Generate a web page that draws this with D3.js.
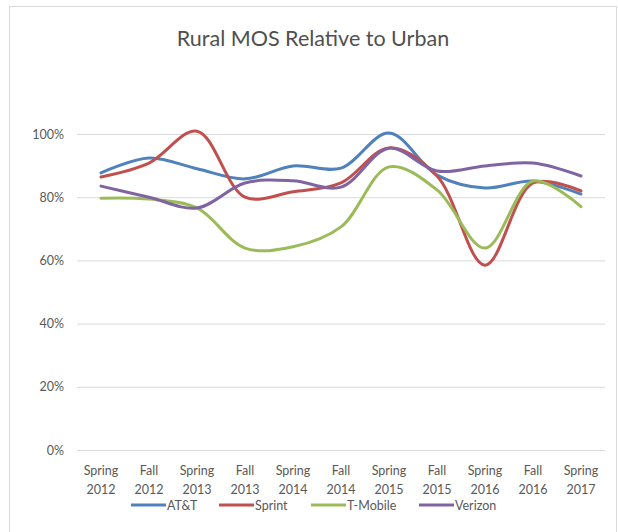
<!DOCTYPE html>
<html><head><meta charset="utf-8">
<script src="https://cdn.jsdelivr.net/npm/d3@7"></script>
<style>body{margin:0;background:#fff;} text{font-family:Lato,"Open Sans",sans-serif;}</style>
</head><body>
<svg id="c" width="618" height="532"></svg>
<script>
const categories = ["Spring 2012","Fall 2012","Spring 2013","Fall 2013","Spring 2014","Fall 2014","Spring 2015","Fall 2015","Spring 2016","Fall 2016","Spring 2017"];
const att      = [87.7, 92.4, 89.0, 85.8, 89.9, 89.2, 100.3, 87.0, 82.9, 85.1, 81.0];
const sprint   = [86.4, 90.8, 100.9, 80.0, 81.7, 84.5, 95.6, 86.7, 58.5, 84.5, 82.0];
const tmobile  = [79.7, 79.4, 76.6, 63.9, 64.3, 70.6, 89.6, 82.3, 63.9, 85.1, 77.0];
const verizon  = [83.5, 80.0, 76.6, 84.5, 85.2, 83.2, 95.5, 88.3, 89.9, 90.8, 86.7];
const yTicks = [0, 20, 40, 60, 80, 100];
const seriesNames = ["AT&T","Sprint","T-Mobile","Verizon"];
const seriesColors = ["#4F81BD","#C0504D","#9BBB59","#8064A2"];
const seriesData = [att, sprint, tmobile, verizon];

const svg = d3.select("#c");
// chart border
svg.append("rect").attr("x",9.5).attr("y",6.5).attr("width",607).attr("height",540)
  .attr("fill","none").attr("stroke","#d9d9d9").attr("stroke-width",1);

svg.append("text").attr("x",313).attr("y",46).attr("text-anchor","middle")
  .attr("font-size",21.5).attr("fill","#505050").text("Rural MOS Relative to Urban");

const x = d3.scaleBand().domain(categories).range([77,605]);
const y = d3.scaleLinear().domain([0,100]).range([450,134]);

// gridlines
svg.append("g").selectAll("line").data(yTicks).join("line")
  .attr("x1",77).attr("x2",605).attr("y1",d=>y(d)+0.5).attr("y2",d=>y(d)+0.5)
  .attr("stroke","#d9d9d9").attr("stroke-width",1);

// y axis labels
const yAxis = d3.axisLeft(y).tickValues(yTicks).tickFormat(d=>d+"%").tickSize(0).tickPadding(0);
const gy = svg.append("g").attr("transform","translate(64,0)").call(yAxis);
gy.select(".domain").remove();
gy.selectAll("text").attr("font-size",12.5).attr("fill","#595959").attr("font-family","Lato,'Open Sans',sans-serif");

// x axis labels
const xAxis = d3.axisBottom(x).tickSize(0).tickPadding(0);
const gx = svg.append("g").attr("transform","translate(0,456)").call(xAxis);
gx.select(".domain").remove();
gx.selectAll("text").each(function(d){
  const t = d3.select(this);
  const parts = d.split(" ");
  t.text(null).attr("font-size",12.5).attr("fill","#595959").attr("font-family","Lato,'Open Sans',sans-serif").attr("y",0).attr("dy",null);
  t.append("tspan").attr("x",0).attr("y",19).text(parts[0]);
  t.append("tspan").attr("x",0).attr("y",38).text(parts[1]);
});

// lines
const line = d3.line().x((d,i)=>x(categories[i])+x.bandwidth()/2).y(d=>y(d)).curve(d3.curveCatmullRom.alpha(0.5));
svg.append("g").selectAll("path").data(seriesData).join("path")
  .attr("d",d=>line(d)).attr("fill","none")
  .attr("stroke",(d,i)=>seriesColors[i]).attr("stroke-width",3).attr("stroke-linecap","round");

// legend
const legX = [131, 219, 311, 419];
const lg = svg.append("g").selectAll("g").data(seriesNames).join("g")
  .attr("transform",(d,i)=>`translate(${legX[i]},505)`);
lg.append("line").attr("x1",0).attr("x2",35).attr("y1",0).attr("y2",0)
  .attr("stroke",(d,i)=>seriesColors[i]).attr("stroke-width",3);
lg.append("text").attr("x",36).attr("y",4.5).attr("font-size",12.5).attr("fill","#595959").text(d=>d);
</script>
</body></html>
